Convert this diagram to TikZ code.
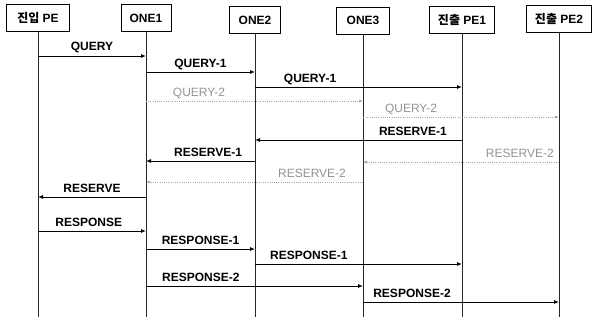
\documentclass[tikz,border=0pt]{standalone}
\usepackage{fontspec}
\setmainfont{Liberation Sans}
\newfontfamily\kr{Noto Sans CJK KR}
\usetikzlibrary{arrows.meta}
\begin{document}
\begin{tikzpicture}[x=1pt,y=-1pt,
  hdr/.style={draw, line width=0.6pt, minimum height=27pt, inner sep=0pt,
    font=\fontsize{12}{13}\selectfont\bfseries},
  life/.style={line width=0.8pt, black!85},
  msg/.style={line width=0.9pt, -{Latex[length=5pt,width=4pt]}},
  gmsg/.style={line width=0.6pt, gray!70, dash pattern=on 1pt off 1.2pt,
    -{Latex[length=4pt,width=3pt]}},
  lbl/.style={font=\fontsize{12}{13}\selectfont\bfseries, inner sep=0pt,
    anchor=base, yshift=5pt},
  glbl/.style={lbl, text=gray!85, font=\fontsize{12}{13}\selectfont}
]
\useasboundingbox (0,0) rectangle (593,321);
% headers
\node[hdr, minimum width=63pt] (h0) at (38,18) {{\kr 진입} PE};
\node[hdr, minimum width=50pt] (h1) at (146,18) {ONE1};
\node[hdr, minimum width=51pt] (h2) at (255,20) {ONE2};
\node[hdr, minimum width=53pt] (h3) at (363,20.5) {ONE3};
\node[hdr, minimum width=65pt] (h4) at (462,20) {{\kr 진출} PE1};
\node[hdr, minimum width=65pt] (h5) at (559,18.5) {{\kr 진출} PE2};
% lifelines
\foreach \n in {h0,h1,h2,h3,h4,h5}{
  \coordinate (\n e) at (\n.south |- 0,317);
  \draw[life] (\n.south) -- (\n e);
}
% messages
\draw[msg] (h0 |- 0,56) -- node[lbl, pos=.5]{QUERY} (h1 |- 0,56);
\draw[msg] (h1 |- 0,72) -- node[lbl, pos=.5]{QUERY-1} (h2 |- 0,72);
\draw[msg] (h2 |- 0,87) -- node[lbl, pos=.266]{QUERY-1} (h4 |- 0,87);
\draw[gmsg] (h1 |- 0,101) -- node[glbl, pos=.244]{QUERY-2} (h3 |- 0,101);
\draw[gmsg] (h3 |- 0,117) -- node[glbl, pos=.245]{QUERY-2} (h5 |- 0,117);
\draw[msg] (h4 |- 0,140) -- node[lbl, pos=.237]{RESERVE-1} (h2 |- 0,140);
\draw[msg] (h2 |- 0,161) -- node[lbl, pos=.43]{RESERVE-1} (h1 |- 0,161);
\draw[gmsg] (h5 |- 0,162) -- node[glbl, pos=.2]{RESERVE-2} (h3 |- 0,162);
\draw[gmsg] (h3 |- 0,182) -- node[glbl, pos=.235]{RESERVE-2} (h1 |- 0,182);
\draw[msg] (h1 |- 0,197) -- node[lbl, pos=.5]{RESERVE} (h0 |- 0,197);
\draw[msg] (h0 |- 0,231) -- node[lbl, pos=.47]{RESPONSE} (h1 |- 0,231);
\draw[msg] (h1 |- 0,249) -- node[lbl, pos=.5]{RESPONSE-1} (h2 |- 0,249);
\draw[msg] (h2 |- 0,264) -- node[lbl, pos=.26]{RESPONSE-1} (h4 |- 0,264);
\draw[msg] (h1 |- 0,286) -- node[lbl, pos=.253]{RESPONSE-2} (h3 |- 0,286);
\draw[msg] (h3 |- 0,302) -- node[lbl, pos=.25]{RESPONSE-2} (h5 |- 0,302);
\end{tikzpicture}
\end{document}
